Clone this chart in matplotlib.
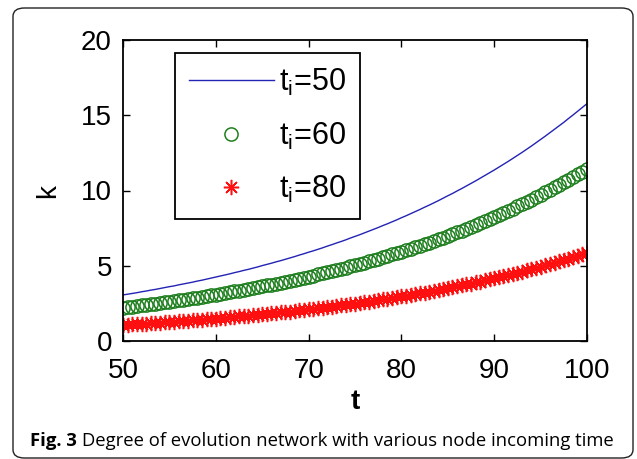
import numpy as np
import matplotlib
matplotlib.use("Agg")
import matplotlib.pyplot as plt
from matplotlib.patches import FancyBboxPatch

plt.rcParams['font.family'] = ['Liberation Sans', 'DejaVu Sans']
plt.rcParams['mathtext.default'] = 'regular'

# t sampled every 0.5 from 50 to 100
t = np.arange(50, 100.5, 0.5)

k_50 = [3.06, 3.11, 3.16, 3.21, 3.27, 3.32, 3.38, 3.43, 3.49, 3.55,
        3.61, 3.66, 3.73, 3.79, 3.85, 3.91, 3.98, 4.04, 4.11, 4.18,
        4.25, 4.32, 4.39, 4.46, 4.54, 4.61, 4.69, 4.76, 4.84, 4.92,
        5.01, 5.09, 5.17, 5.26, 5.34, 5.43, 5.52, 5.61, 5.71, 5.80,
        5.90, 5.99, 6.09, 6.19, 6.30, 6.40, 6.51, 6.61, 6.72, 6.84,
        6.95, 7.06, 7.18, 7.30, 7.42, 7.54, 7.67, 7.79, 7.92, 8.05,
        8.19, 8.32, 8.46, 8.60, 8.74, 8.89, 9.03, 9.18, 9.33, 9.49,
        9.65, 9.80, 9.97, 10.13, 10.30, 10.47, 10.64, 10.82, 11.00, 11.18,
        11.36, 11.55, 11.74, 11.93, 12.13, 12.33, 12.53, 12.74, 12.95, 13.17,
        13.39, 13.61, 13.84, 14.07, 14.30, 14.53, 14.78, 15.02, 15.27, 15.52,
        15.77]

k_60 = [2.22, 2.26, 2.29, 2.33, 2.37, 2.41, 2.45, 2.49, 2.53, 2.57,
        2.61, 2.65, 2.70, 2.74, 2.79, 2.83, 2.88, 2.93, 2.98, 3.03,
        3.08, 3.13, 3.18, 3.24, 3.29, 3.34, 3.40, 3.45, 3.51, 3.57,
        3.63, 3.69, 3.75, 3.81, 3.88, 3.94, 4.01, 4.07, 4.14, 4.21,
        4.28, 4.35, 4.42, 4.50, 4.57, 4.65, 4.72, 4.80, 4.88, 4.96,
        5.04, 5.12, 5.21, 5.29, 5.38, 5.47, 5.56, 5.65, 5.75, 5.84,
        5.93, 6.03, 6.13, 6.23, 6.33, 6.44, 6.54, 6.65, 6.76, 6.87,
        6.99, 7.11, 7.22, 7.34, 7.46, 7.59, 7.71, 7.84, 7.97, 8.10,
        8.24, 8.38, 8.51, 8.66, 8.80, 8.94, 9.09, 9.24, 9.40, 9.55,
        9.71, 9.87, 10.03, 10.20, 10.37, 10.54, 10.71, 10.89, 11.07, 11.25,
        11.43]

k_80 = [1.06, 1.08, 1.10, 1.12, 1.14, 1.15, 1.17, 1.19, 1.22, 1.24,
        1.26, 1.28, 1.30, 1.32, 1.35, 1.37, 1.39, 1.42, 1.44, 1.47,
        1.49, 1.52, 1.54, 1.57, 1.60, 1.63, 1.65, 1.68, 1.71, 1.74,
        1.77, 1.80, 1.83, 1.86, 1.90, 1.93, 1.96, 2.00, 2.03, 2.06,
        2.10, 2.14, 2.17, 2.21, 2.25, 2.29, 2.33, 2.37, 2.41, 2.45,
        2.49, 2.53, 2.58, 2.62, 2.67, 2.71, 2.76, 2.81, 2.86, 2.91,
        2.96, 3.01, 3.06, 3.11, 3.17, 3.22, 3.28, 3.33, 3.39, 3.45,
        3.51, 3.57, 3.63, 3.69, 3.76, 3.82, 3.89, 3.95, 4.02, 4.09,
        4.16, 4.23, 4.31, 4.38, 4.46, 4.53, 4.61, 4.69, 4.77, 4.85,
        4.94, 5.02, 5.11, 5.20, 5.29, 5.38, 5.47, 5.57, 5.66, 5.76,
        5.86]

labels = ['$t_i$=50', '$t_i$=60', '$t_i$=80']
xticks = [50, 60, 70, 80, 90, 100]
yticks = [0, 5, 10, 15, 20]

W, H = 637, 459
fig = plt.figure(figsize=(W / 100, H / 100), dpi=100)
ax = fig.add_axes([123 / W, 1 - 341 / H, (587 - 123) / W, (341 - 40) / H])

ax.plot(t, k_50, color='#2323b4', lw=1.0, label=labels[0])
ax.plot(t, k_60, ls='none', marker='o', ms=9.5, mfc='none', mec='#1f7f1f',
        mew=1.1, label=labels[1])
ax.plot(t, k_80, ls='none', marker=(8, 2, 0), ms=11, mec='#ff1010',
        color='#ff1010', mew=1.1, label=labels[2])

ax.set_xlim(50, 100)
ax.set_ylim(0, 20)
ax.set_xticks(xticks)
ax.set_yticks(yticks)
ax.tick_params(direction='in', length=5, width=1, top=True, right=True,
               labelsize=20)
ax.tick_params(axis='x', pad=12)
ax.tick_params(axis='y', pad=8)
for s in ax.spines.values():
    s.set_linewidth(1.3)
ax.set_xlabel('t', fontsize=20, fontweight='bold', labelpad=4)
ax.set_ylabel('k', fontsize=20, labelpad=14)

leg = ax.legend(loc='upper left', bbox_to_anchor=(0.112, 0.957), fontsize=22,
                handlelength=2.8, handletextpad=0.15, labelspacing=0.74,
                borderpad=0.45, borderaxespad=0, fancybox=False,
                edgecolor='black', framealpha=1)
leg.get_frame().set_linewidth(1.3)

# outer rounded frame
frame = FancyBboxPatch((13 / W, 1 - 458 / H), 620 / W, 450 / H,
                       boxstyle='round,pad=0,rounding_size=0.018',
                       transform=fig.transFigure, fill=False,
                       edgecolor='#222222', lw=1.0)
fig.patches.append(frame)

# caption
cap1 = fig.text(30 / W, 1 - 446 / H, 'Fig. 3', fontsize=13.3, fontweight='bold',
                family='Open Sans', va='baseline')
fig.canvas.draw()
bb = cap1.get_window_extent()
fig.text((bb.x1 + 5) / W, 1 - 446 / H,
         'Degree of evolution network with various node incoming time',
         fontsize=13.3, family='Open Sans', va='baseline')

fig.savefig('out.png', dpi=100)
